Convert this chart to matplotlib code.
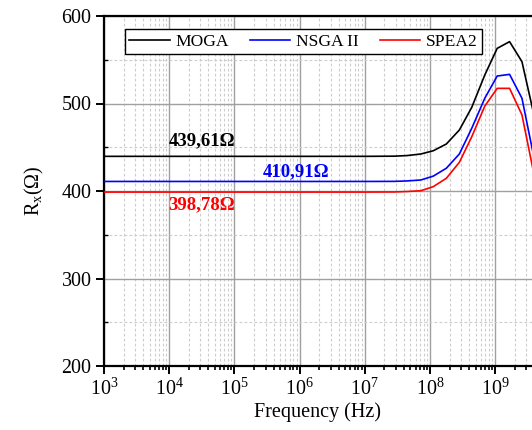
import numpy as np
import matplotlib
matplotlib.use("Agg")
import matplotlib.pyplot as plt
from matplotlib.ticker import FixedLocator, MultipleLocator, NullFormatter

plt.rcParams["font.family"] = ["Liberation Serif", "DejaVu Serif"]
plt.rcParams["mathtext.fontset"] = "custom"
plt.rcParams["mathtext.rm"] = "Liberation Serif"
plt.rcParams["mathtext.it"] = "Liberation Serif:italic"

# frequency grid as log10(Hz)
log_freq = [3, 4, 5, 6, 7, 7.45, 7.65, 7.86, 8.05, 8.25, 8.45, 8.64, 8.84, 9.03, 9.22, 9.41, 9.6]
moga = [439.61, 439.61, 439.61, 439.61, 439.61, 439.8, 440.5, 442.3, 446.0, 453.7, 469.7,
        495.6, 532.6, 563.0, 570.7, 547.8, 485.0]
nsga2 = [410.91, 410.91, 410.91, 410.91, 410.91, 411.0, 411.5, 412.6, 417.0, 426.0, 442.3,
         471.7, 506.0, 531.4, 533.3, 506.0, 436.0]
spea2 = [398.78, 398.78, 398.78, 398.78, 398.78, 398.9, 399.4, 400.3, 405.0, 414.5, 432.8,
         462.0, 497.0, 517.3, 517.3, 487.0, 417.0]
labels = ["MOGA", "NSGA II", "SPEA2"]
colors = ["black", "blue", "red"]
notes = ["439,61Ω", "410,91Ω", "398,78Ω"]
note_x = [1e4, 10 ** 5.43, 10 ** 3.99]
note_y = [457, 422, 384]
decades = [3, 4, 5, 6, 7, 8, 9]

freq = np.power(10.0, log_freq)

W, H = 532, 430
fig = plt.figure(figsize=(W / 100, H / 100), dpi=100)
# the original is cropped at the right edge, so the x axis stops mid-decade
ax = fig.add_axes([104 / W, 64 / H, 428 / W, 350 / H])

for ys, lab, c in zip([moga, nsga2, spea2], labels, colors):
    ax.plot(freq, ys, color=c, lw=1.2, label=lab, zorder=3)

for t, x, y, c in zip(notes, note_x, note_y, colors):
    ax.text(x, y, t, color=c, fontsize=13.5, fontweight="bold", ha="left", va="center", zorder=4)

ax.set_xscale("log")
ax.set_xlim(1e3, 10 ** 9.564)
ax.set_ylim(200, 600)
ax.set_xticks([10.0 ** d for d in decades])
ax.set_xticklabels([rf"$\mathregular{{10^{{{d}}}}}$" for d in decades])
minor = [m * 10.0 ** d for d in decades for m in range(2, 10)]
ax.xaxis.set_minor_locator(FixedLocator(minor))
ax.xaxis.set_minor_formatter(NullFormatter())
ax.yaxis.set_major_locator(MultipleLocator(100))
ax.yaxis.set_minor_locator(MultipleLocator(50))

ax.grid(which="major", color="#a0a0a0", lw=1.0, ls="-", zorder=0)
ax.grid(which="minor", color="#cccccc", lw=0.8, ls=(0, (2.5, 2)), zorder=0)
ax.set_axisbelow(True)

for s in ["left", "bottom", "top"]:
    ax.spines[s].set_linewidth(1.6)
ax.spines["right"].set_visible(False)

ax.tick_params(which="major", direction="out", length=6, width=1.4, labelsize=14.4, pad=3)
ax.tick_params(axis="x", which="minor", direction="out", length=3, width=1.2)
ax.tick_params(axis="y", which="minor", direction="in", length=3, width=1.0)
ax.tick_params(top=False, right=False)

ax.set_xlabel("Frequency (Hz)", fontsize=14.5, labelpad=2)
ax.set_ylabel(r"R$_\mathregular{x}$(Ω)", fontsize=14.5, labelpad=11)

leg = fig.legend(loc="lower left", bbox_to_anchor=(125 / W, 1 - 54 / H, 357 / W, 25 / H),
                 mode="expand", ncol=3, fontsize=12.6, frameon=True, fancybox=False,
                 borderaxespad=0, borderpad=0.25, handlelength=2.3, handletextpad=0.35,
                 framealpha=1)
leg.get_frame().set_edgecolor("black")
leg.get_frame().set_linewidth(1.0)

fig.savefig("out.png", dpi=100)
